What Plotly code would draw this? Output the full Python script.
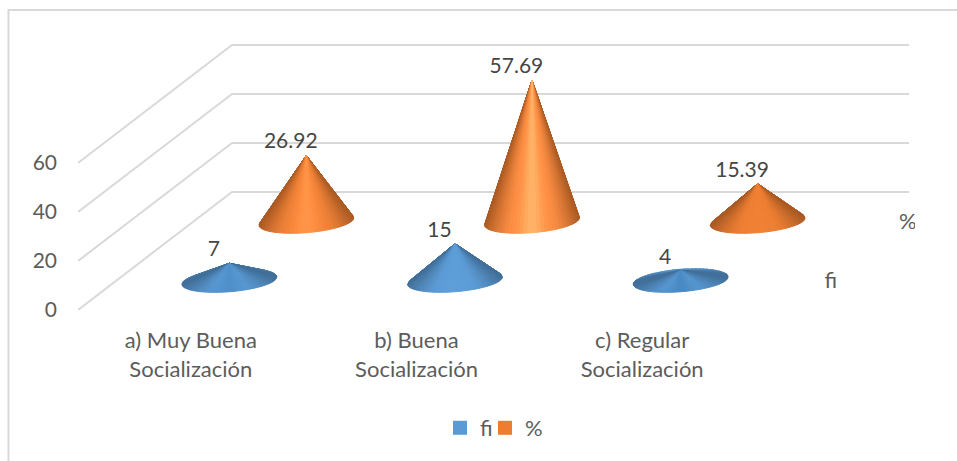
import numpy as np
import plotly.graph_objects as go

categories = ["a) Muy Buena<br>Socialización", "b) Buena<br>Socialización", "c) Regular<br>Socialización"]
series_names = ["fi", "%"]
fi_values = [7, 15, 4]
pct_values = [26.92, 57.69, 15.39]
value_ticks = [0, 20, 40, 60]
series_colors = ["#5b9bd5", "#ed7d31"]
series_depths = [0.25, 0.75]

FONT = "Lato"
TICK = "#5c5c5c"
LABEL = "#464646"
GRID = "#d9d9d9"

# oblique floor: one unit of depth moves this far along each axis
DX, DY = 0.6824, 48.2
RX, RY, TILT = 0.21, 4.6, 1.5   # cone base ellipse in axis units
PX_X, PX_Y = 225.67, 2.45       # pixels per axis unit
L, T, W, H = 78, 10, 837, 300


def hex_rgb(c):
    return np.array([int(c[i:i + 2], 16) for i in (1, 3, 5)], float)


def rgb(a):
    a = np.clip(a, 0, 255)
    return "rgb(%d,%d,%d)" % tuple(a)


def shade(base, t, s):
    a = np.interp(s, [0.2, 0.8, 1.4, 3.0], [-0.07, 0.02, 0.10, 0.23])
    b = hex_rgb(base)
    centre = b + a * np.array([255, 255, 255])
    edge = b * 0.72
    mid = b + 0.35 * (centre - b)
    at = abs(t)
    if at < 0.35:
        return rgb(centre + (mid - centre) * (at / 0.35))
    return rgb(mid + (edge - mid) * ((at - 0.35) / 0.65) ** 1.5)


fig = go.Figure()

# walls and floor grid
for v in value_ticks:
    fig.add_trace(go.Scatter(x=[0, DX, DX + 3], y=[v, v + DY, v + DY], mode="lines",
                             line=dict(color=GRID, width=2), showlegend=False, hoverinfo="skip"))


def cone(i, value, depth, color):
    cx = i + 0.5 + depth * DX
    cy = depth * DY
    apex = (cx, cy + value)
    s = value * PX_Y / (RX * PX_X)
    n = 72
    th = np.linspace(0, 2 * np.pi, n + 1)
    segs = sorted(range(n), key=lambda k: -np.sin((th[k] + th[k + 1]) / 2))
    for k in segs:
        a, b = th[k], th[k + 1]
        xs = [apex[0], cx + RX * np.cos(a), cx + RX * np.cos(b), apex[0]]
        ys = [apex[1], cy + RY * np.sin(a) + TILT * np.cos(a), cy + RY * np.sin(b) + TILT * np.cos(b), apex[1]]
        col = shade(color, np.cos((a + b) / 2), s)
        fig.add_trace(go.Scatter(x=xs, y=ys, mode="lines", fill="toself", fillcolor=col,
                                 line=dict(color=col, width=1), showlegend=False, hoverinfo="skip"))


for vals, depth, color in reversed(list(zip([fi_values, pct_values], series_depths, series_colors))):
    for i, v in enumerate(vals):
        cone(i, v, depth, color)

# data labels
for vals, depth in zip([fi_values, pct_values], series_depths):
    fig.add_trace(go.Scatter(
        x=[i + 0.5 + depth * DX - 0.069 for i in range(3)],
        y=[depth * DY + v + 5.0 for v in vals],
        mode="text", text=[str(v) for v in vals], textposition="middle center",
        textfont=dict(family=FONT, size=21, color=LABEL), showlegend=False, hoverinfo="skip"))

# depth axis labels
fig.add_trace(go.Scatter(
    x=[3 + 0.165 + d * DX for d in series_depths], y=[d * DY - 0.8 for d in series_depths],
    mode="text", text=series_names, textposition="middle center",
    textfont=dict(family=FONT, size=22, color=TICK), showlegend=False, hoverinfo="skip"))

# legend entries, one legend per series so their spacing can follow the reference
for name, color, lg in zip(series_names, series_colors, ["legend", "legend2"]):
    fig.add_trace(go.Scatter(x=[None], y=[None], mode="markers", name=name, legend=lg,
                             marker=dict(symbol="square", size=14, color=color)))

legend_style = dict(orientation="h", xanchor="left", y=(T + H - 407) / H, yanchor="top",
                    font=dict(family=FONT, size=22, color=TICK), bgcolor="rgba(0,0,0,0)")

fig.update_layout(
    width=957, height=461, autosize=False,
    margin=dict(l=L, r=957 - L - W, t=T, b=461 - T - H),
    paper_bgcolor="white", plot_bgcolor="white",
    font=dict(family=FONT, size=21, color=TICK),
    xaxis=dict(range=[0, W / PX_X], tickmode="array", tickvals=[0.5, 1.5, 2.5],
               ticktext=["<span style='font-size:22px'>%s</span>" % c.replace("<br>", "</span><br><span style='font-size:22px'>") for c in categories],
               tickfont=dict(family=FONT, size=22.3, color=TICK),
               showgrid=False, zeroline=False, showline=False, ticks="", tickangle=0, ticklabelstandoff=15),
    yaxis=dict(range=[0, H / PX_Y], tickmode="array", tickvals=value_ticks,
               tickfont=dict(family=FONT, size=21, color=TICK),
               showgrid=False, zeroline=False, showline=False, ticks="", ticklabelstandoff=20),
    legend=dict(x=(440 - L) / W, **legend_style),
    legend2=dict(x=(485 - L) / W, **legend_style),
    shapes=[dict(type="rect", xref="paper", yref="paper",
                 x0=(8.5 - L) / W, x1=(975 - L) / W, y0=(T + H - 480) / H, y1=(T + H - 10) / H,
                 line=dict(color=GRID, width=2), layer="below")],
)

page_css = ("document.body.style.margin='0';"
            "var s=document.createElement('style');"
            "s.textContent='text{font-variant-ligatures:none}';"
            "document.head.appendChild(s);")
fig.write_html("out.html", post_script=page_css, config={"displayModeBar": False})
